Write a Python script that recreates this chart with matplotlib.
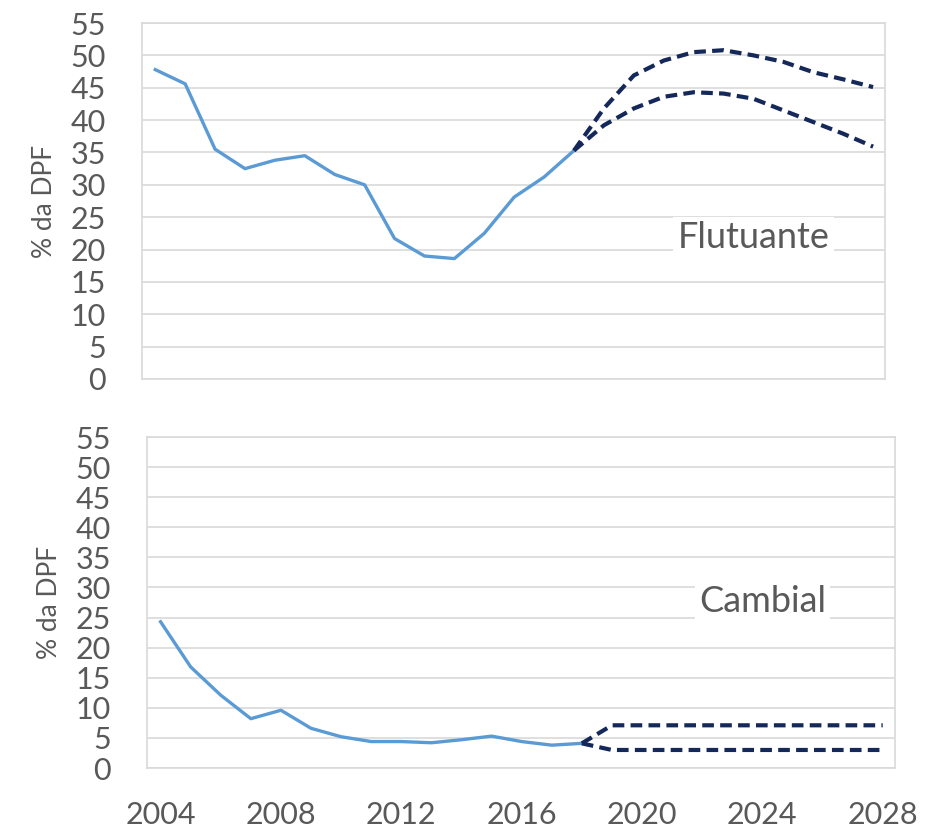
import matplotlib.pyplot as plt

# historical data
years_hist = [2004, 2005, 2006, 2007, 2008, 2009, 2010, 2011, 2012, 2013, 2014, 2015, 2016, 2017, 2018]
flut_hist = [47.8, 45.6, 35.5, 32.5, 33.8, 34.5, 31.6, 30.0, 21.7, 19.0, 18.6, 22.5, 28.1, 31.2, 35.3]
camb_hist = [24.3, 16.8, 12.1, 8.2, 9.6, 6.6, 5.2, 4.4, 4.4, 4.2, 4.7, 5.3, 4.4, 3.8, 4.1]

# projections (start from 2018)
years_proj = [2018, 2019, 2020, 2021, 2022, 2023, 2024, 2025, 2026, 2027, 2028]
flut_high = [35.3, 41.8, 46.9, 49.2, 50.5, 50.8, 50.0, 49.0, 47.4, 46.3, 45.1]
flut_low = [35.3, 39.2, 41.8, 43.6, 44.3, 44.1, 43.3, 41.5, 39.7, 37.9, 35.9]
camb_high = [4.1, 7.1, 7.1, 7.1, 7.1, 7.1, 7.1, 7.1, 7.1, 7.1, 7.1]
camb_low = [4.1, 3.0, 3.0, 3.0, 3.0, 3.0, 3.0, 3.0, 3.0, 3.0, 3.0]

xticks = [2004, 2008, 2012, 2016, 2020, 2024, 2028]
yticks = [0, 5, 10, 15, 20, 25, 30, 35, 40, 45, 50, 55]

plt.rcParams['font.family'] = ['Lato', 'DejaVu Sans']

blue = '#5B9BD5'
navy = '#14285A'
grey_txt = '#595959'
grid_c = '#D9D9D9'

fig = plt.figure(figsize=(9.33, 8.34), dpi=100)
ax1 = fig.add_axes([0.152, 0.5456, 0.7966, 0.4268])
ax2 = fig.add_axes([0.1576, 0.0791, 0.8014, 0.3969])


def style(ax, show_x):
    ax.set_xlim(2003.55, 2028.4)
    ax.set_ylim(0, 55)
    ax.set_yticks(yticks)
    ax.set_xticks(xticks)
    ax.grid(axis='y', color=grid_c, linewidth=1.2)
    ax.set_axisbelow(True)
    for s in ax.spines.values():
        s.set_color(grid_c)
        s.set_linewidth(1.2)
    ax.tick_params(length=0, labelsize=22, labelcolor=grey_txt)
    ax.tick_params(axis='y', pad=26)
    if not show_x:
        ax.set_xticklabels([])
    ax.set_ylabel('% da DPF', fontsize=19, color=grey_txt)
    ax.yaxis.label.set_va('center')
    ax.yaxis.set_label_coords(-0.131, 0.5)


style(ax1, False)
style(ax2, True)
ax2.tick_params(axis='x', pad=24)

dash = (0, (2.8, 1.5))

# Flutuante
ax1.plot(years_hist, flut_hist, color=blue, linewidth=2.4, solid_joinstyle='round', zorder=3)
ax1.plot(years_proj, flut_high, color=navy, linewidth=3.0, linestyle=dash, zorder=4)
ax1.plot(years_proj, flut_low, color=navy, linewidth=3.0, linestyle=dash, zorder=4)
ax1.text(2024, 21.8, 'Flutuante', fontsize=26, color=grey_txt, ha='center', va='center',
         bbox=dict(facecolor='white', edgecolor='none', pad=3), zorder=2)

# Cambial
ax2.plot(years_hist, camb_hist, color=blue, linewidth=2.4, solid_joinstyle='round', zorder=3)
ax2.plot(years_proj, camb_high, color=navy, linewidth=3.0, linestyle=dash, zorder=4)
ax2.plot(years_proj, camb_low, color=navy, linewidth=3.0, linestyle=dash, zorder=4)
ax2.text(2024, 27.6, 'Cambial', fontsize=26, color=grey_txt, ha='center', va='center',
         bbox=dict(facecolor='white', edgecolor='none', pad=3), zorder=2)

plt.savefig('out.png', dpi=100)
